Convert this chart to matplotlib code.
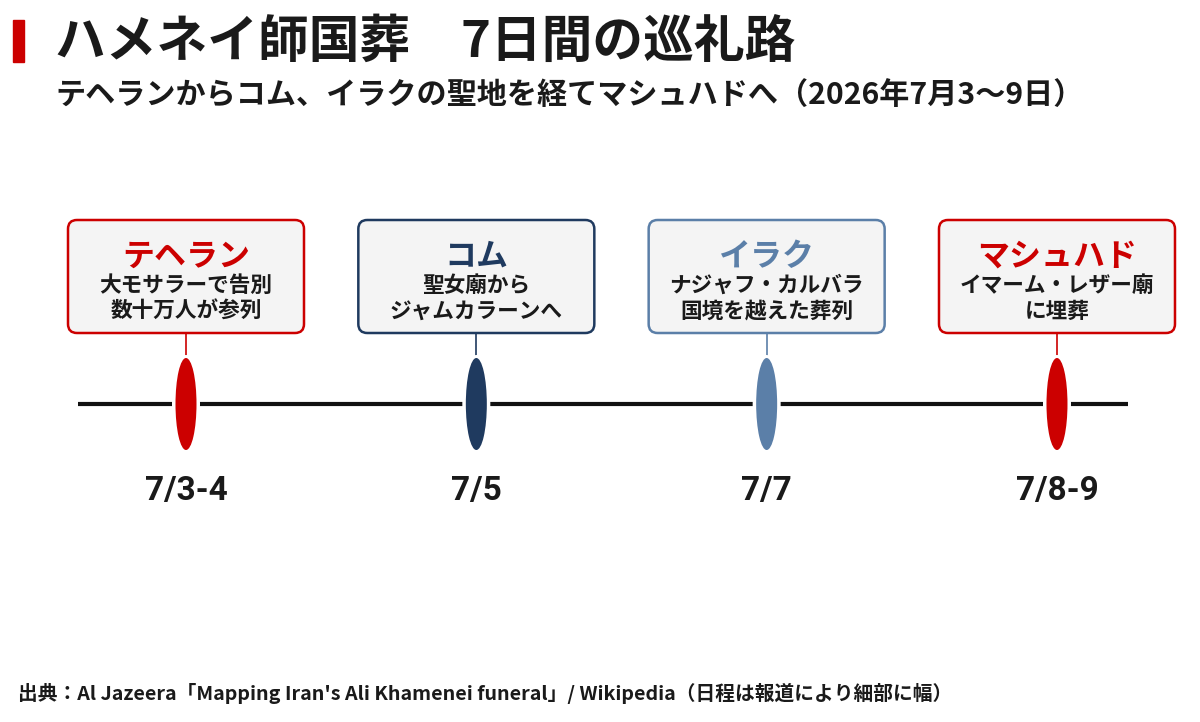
import matplotlib
matplotlib.use('Agg')
import matplotlib.pyplot as plt
from matplotlib.patches import Ellipse, FancyBboxPatch, Rectangle

plt.rcParams['font.family'] = ['Noto Sans CJK JP', 'DejaVu Sans']

# ---- data ----
places = ['テヘラン', 'コム', 'イラク', 'マシュハド']
descs = [
    ['大モサラーで告別', '数十万人が参列'],
    ['聖女廟から', 'ジャムカラーンへ'],
    ['ナジャフ・カルバラ', '国境を越えた葬列'],
    ['イマーム・レザー廟', 'に埋葬'],
]
dates = ['7/3-4', '7/5', '7/7', '7/8-9']
colors = ['#CC0000', '#1F3A5F', '#5B7FA8', '#CC0000']

title = 'ハメネイ師国葬　7日間の巡礼路'
subtitle = 'テヘランからコム、イラクの聖地を経てマシュハドへ（2026年7月3〜9日）'
source = '出典：Al Jazeera「Mapping Iran\'s Ali Khamenei funeral」/ Wikipedia（日程は報道により細部に幅）'

W, H = 1200, 722
x0_px, step_px = 186, 290.33   # pixel of first event, spacing between events
text_c = '#1A1A1A'

fig = plt.figure(figsize=(W / 100, H / 100), dpi=100)
ax = fig.add_axes([0, 0, 1, 1])
ax.set_xlim(-x0_px / step_px, (W - x0_px) / step_px)
ax.set_ylim(H, 0)
ax.axis('off')

px = 1 / step_px  # one pixel in x data units
line_y = 404

# timeline
n = len(places)
ax.plot([-108 * px, (n - 1) + 71 * px], [line_y, line_y], color='#111111',
        lw=3, solid_capstyle='butt', zorder=1)

for i, (name, d, date, c) in enumerate(zip(places, descs, dates, colors)):
    # box
    bw = 236 * px
    box = FancyBboxPatch((i - bw / 2, 220), bw, 113,
                         boxstyle='round,pad=0,rounding_size=%f' % (9 * px),
                         mutation_aspect=step_px,
                         facecolor='#F4F4F4', edgecolor=c, lw=1.8, zorder=3)
    ax.add_patch(box)
    ax.text(i, 257, name, ha='center', va='center', fontsize=23,
            fontweight='bold', color=c, zorder=4)
    ax.text(i, 285, d[0], ha='center', va='center', fontsize=15.6,
            fontweight='bold', color=text_c, zorder=4)
    ax.text(i, 311, d[1], ha='center', va='center', fontsize=15.6,
            fontweight='bold', color=text_c, zorder=4)
    # stem
    ax.plot([i, i], [333, 358], color=c, lw=1.2, zorder=2)
    # marker with white halo
    ax.add_patch(Ellipse((i, line_y), 28 * px, 98, facecolor='white',
                         edgecolor='none', zorder=2))
    ax.add_patch(Ellipse((i, line_y), 21 * px, 92, facecolor=c,
                         edgecolor='none', zorder=3))
    # date
    ax.text(i, 491, date, ha='center', va='center', fontsize=24,
            fontweight='bold', family=['Roboto', 'DejaVu Sans'], color=text_c)

# header
fig.add_artist(Rectangle((13 / W, 1 - 62 / H), 11 / W, 42 / H,
                         transform=fig.transFigure, color='#CC0000'))
fig.text(55 / W, 1 - 42 / H, title, ha='left', va='center', fontsize=36.5,
         fontweight='bold', color=text_c)
fig.text(55 / W, 1 - 95 / H, subtitle, ha='left', va='center', fontsize=21.7,
         fontweight='bold', color=text_c)
fig.text(18 / W, 1 - 693 / H, source, ha='left', va='center', fontsize=14.2,
         fontweight='bold', color=text_c)

fig.savefig('out.png', dpi=100, facecolor='white')
